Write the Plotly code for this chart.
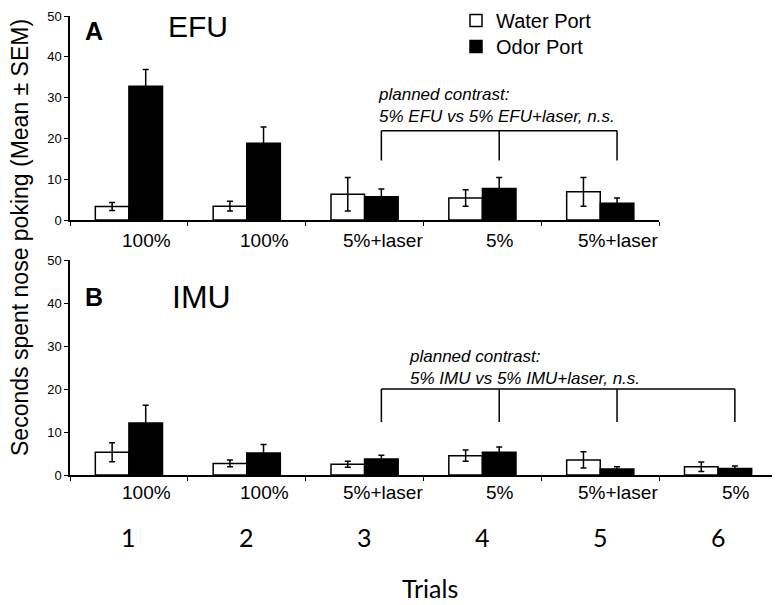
import plotly.graph_objects as go

# ---------------- data ----------------
trial_numbers = ["1", "2", "3", "4", "5", "6"]
efu_labels = ["100%", "100%", "5%+laser", "5%", "5%+laser"]
imu_labels = ["100%", "100%", "5%+laser", "5%", "5%+laser", "5%"]

efu_water = [3.3, 3.4, 6.3, 5.4, 6.9]
efu_water_sem = [1.0, 1.2, 4.1, 2.0, 3.5]
efu_odor = [32.8, 18.8, 5.7, 7.7, 4.1]
efu_odor_sem = [4.1, 4.0, 1.9, 2.7, 1.3]

imu_water = [5.3, 2.7, 2.5, 4.5, 3.5, 1.9]
imu_water_sem = [2.2, 0.8, 0.7, 1.3, 1.9, 1.1]
imu_odor = [12.1, 5.1, 3.7, 5.3, 1.4, 1.5]
imu_odor_sem = [4.1, 2.0, 0.9, 1.2, 0.5, 0.6]

efu_contrast_trials = [3, 4, 5]
imu_contrast_trials = [3, 4, 5, 6]
efu_bracket = (21.9, 14.6)   # (top, bottom of legs)
imu_bracket = (20.0, 12.3)
efu_contrast_text = ["planned contrast:", "5% EFU vs 5% EFU+laser, n.s."]
imu_contrast_text = ["planned contrast:", "5% IMU vs 5% IMU+laser, n.s."]

# ---------------- layout geometry ----------------
# page body has an 8px margin; the figure is sized so it fits the 780x605 window
OFF = 8
W, H = 780 - OFF, 605 - OFF
PLOT_L, PLOT_T, PLOT_R, PLOT_B = 70, 16, 777, 475   # in window pixels
ML, MT = PLOT_L - OFF, PLOT_T - OFF
MR = W - (PLOT_R - OFF)
MB = H - (PLOT_B - OFF)
plot_h = PLOT_B - PLOT_T
plot_w = PLOT_R - PLOT_L
BARGAP = 0.43
half_bar = (1 - BARGAP) / 4  # offset of each bar center from category center


def py(ypx):
    return (PLOT_B - ypx) / plot_h


def pxp(xpx):
    return (xpx - PLOT_L) / plot_w


FONT = "Liberation Sans, Arial, sans-serif"
CAL = "Lato, Liberation Sans, sans-serif"

fig = go.Figure()


def add_panel(water, wsem, odor, osem, xa, ya, legend):
    xs = [i + 0.5 for i in range(len(water))]
    fig.add_trace(go.Bar(
        x=xs, y=water, name="Water Port", xaxis=xa, yaxis=ya,
        offsetgroup="w", showlegend=legend, legend="legend",
        marker=dict(color="white", line=dict(color="black", width=1.5)),
        error_y=dict(type="data", array=wsem, color="black", thickness=1.5, width=3),
    ))
    fig.add_trace(go.Bar(
        x=xs, y=odor, name="Odor Port", xaxis=xa, yaxis=ya,
        offsetgroup="o", showlegend=legend, legend="legend2",
        marker=dict(color="black", line=dict(color="black", width=1.5)),
        error_y=dict(type="data", array=osem, color="black", thickness=1.5, width=3),
    ))


add_panel(efu_water, efu_water_sem, efu_odor, efu_odor_sem, "x", "y", True)
add_panel(imu_water, imu_water_sem, imu_odor, imu_odor_sem, "x2", "y2", False)

shapes = []


def add_bracket(trials, top, bot, xref, yref):
    xs = [t - 0.5 + half_bar for t in trials]
    shapes.append(dict(type="line", xref=xref, yref=yref, x0=xs[0], x1=xs[-1],
                       y0=top, y1=top, line=dict(color="black", width=1.5)))
    for x in xs:
        shapes.append(dict(type="line", xref=xref, yref=yref, x0=x, x1=x,
                           y0=top, y1=bot, line=dict(color="black", width=1.5)))


add_bracket(efu_contrast_trials, efu_bracket[0], efu_bracket[1], "x", "y")
add_bracket(imu_contrast_trials, imu_bracket[0], imu_bracket[1], "x2", "y2")

ann = []


def text(t, x, y, size, family=FONT, xref="paper", xanchor="center", **kw):
    d = dict(text=t, xref=xref, x=x, yref="paper", y=y, showarrow=False,
             xanchor=xanchor, yanchor="middle",
             font=dict(size=size, family=family, color="black"))
    d.update(kw)
    ann.append(d)


for i, lab in enumerate(efu_labels):
    text(lab, i + 0.5, py(240), 19, xref="x", xshift=18)
for i, lab in enumerate(imu_labels):
    text(lab, i + 0.5, py(492), 19, xref="x2", xshift=18)
for i, lab in enumerate(trial_numbers):
    text(lab, i + 0.5, py(537), 25, family=CAL, xref="x2")

text("Trials", pxp(430), py(588), 25, family=CAL)
text("Seconds spent nose poking (Mean \u00b1 SEM)", pxp(20), py(238), 23, textangle=-90)

text("<b>A</b>", pxp(94), py(31), 25)
text("EFU", pxp(198), py(27), 30)
text("<b>B</b>", pxp(94), py(297), 25)
text("IMU", pxp(201), py(297), 32)

text("<br>".join("<i>%s</i>" % s for s in efu_contrast_text), pxp(376), py(105), 17,
     xanchor="left", align="left")
text("<br>".join("<i>%s</i>" % s for s in imu_contrast_text), pxp(407), py(367), 17,
     xanchor="left", align="left")

yax = dict(range=[0, 50], dtick=10, showline=True, linecolor="black", linewidth=1.5,
           ticks="outside", ticklen=4, tickwidth=1.2, tickcolor="black",
           showgrid=False, zeroline=False, ticklabeloverflow="allow",
           tickfont=dict(size=13, family=FONT, color="black"))
xax = dict(showline=True, linecolor="black", linewidth=1.5, ticks="outside",
           ticklen=4, tickwidth=1, tickcolor="black", showticklabels=False,
           showgrid=False, zeroline=False, tick0=0, dtick=1)

leg = dict(xanchor="left", yanchor="top", bgcolor="rgba(0,0,0,0)", borderwidth=0,
           font=dict(size=20, family=FONT, color="black"))
LEG_OFF = 19  # item centre below legend top

fig.update_layout(
    width=W, height=H,
    margin=dict(l=ML, r=MR, t=MT, b=MB, autoexpand=False),
    paper_bgcolor="white", plot_bgcolor="white",
    barmode="group", bargap=BARGAP, bargroupgap=0,
    xaxis=dict(xax, domain=[0, 5 / 6], range=[0, 5], anchor="y"),
    yaxis=dict(yax, domain=[py(220), 1], anchor="x"),
    xaxis2=dict(xax, domain=[0, 1], range=[0, 6], anchor="y2"),
    yaxis2=dict(yax, domain=[0, py(260)], anchor="x2"),
    legend=dict(leg, x=pxp(456), y=py(20 - LEG_OFF)),
    legend2=dict(leg, x=pxp(456), y=py(46 - LEG_OFF)),
    shapes=shapes,
    annotations=ann,
    font=dict(family=FONT, color="black"),
)

fig.write_html("out.html")
